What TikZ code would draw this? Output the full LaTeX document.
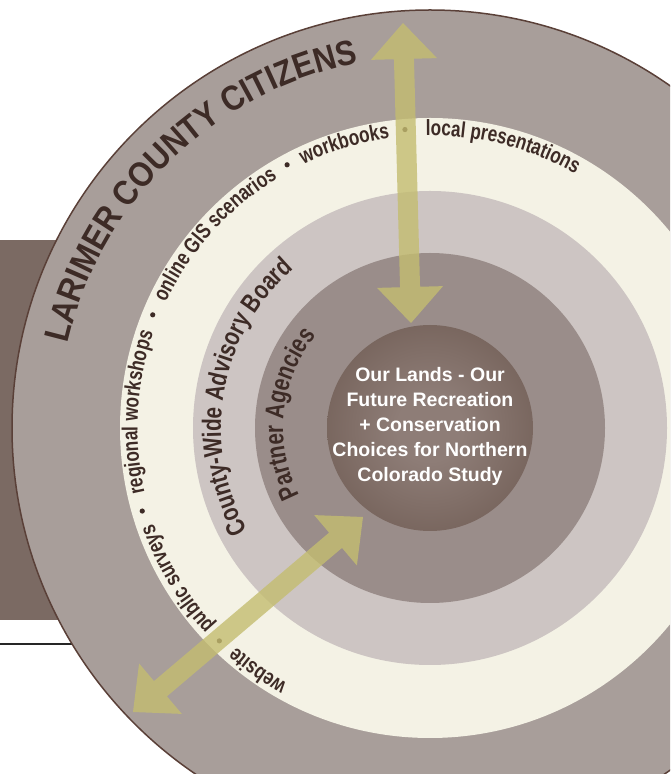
\documentclass[tikz,border=0pt]{standalone}
\usepackage{fontspec}
\setmainfont{Liberation Sans}
\newfontfamily\ringfont[FakeStretch=0.78]{Liberation Sans}
\newfontfamily\citizenfont[FakeStretch=0.88]{Liberation Sans}
\usetikzlibrary{calc, decorations.text}

\definecolor{outerring}{HTML}{A89E9A}
\definecolor{creamring}{HTML}{F4F2E5}
\definecolor{boardring}{HTML}{CDC5C3}
\definecolor{partnerring}{HTML}{9A8D8A}
\definecolor{hubdark}{HTML}{5B463C}
\definecolor{hublight}{HTML}{8E7D77}
\definecolor{backpanel}{HTML}{7B6A63}
\definecolor{rimline}{HTML}{5A4038}
\definecolor{inkbrown}{HTML}{3D2B26}
\definecolor{arrowolive}{HTML}{C4BD70}

\pgfdeclareradialshading{hubglow}{\pgfpoint{0bp}{0bp}}%
  {color(0bp)=(hublight); color(8bp)=(hublight); color(50bp)=(hubdark)}

\newcommand{\citizentype}{\citizenfont\bfseries\fontsize{35}{40}\selectfont}
\newcommand{\boardtype}{\ringfont\bfseries\fontsize{26.5}{30}\selectfont}
\newcommand{\channeltype}{\ringfont\bfseries\fontsize{22}{24}\selectfont}

% block arrow with a head at both ends, between two named points
\newcommand{\twowayarrow}[2]{%
  \fill[twoway] (#1)
    -- ($(#1)!36pt!(#2)!33pt!90:(#2)$)
    -- ($(#1)!36pt!(#2)!10pt!90:(#2)$)
    -- ($(#2)!36pt!(#1)!10pt!-90:(#1)$)
    -- ($(#2)!36pt!(#1)!33pt!-90:(#1)$)
    -- (#2)
    -- ($(#2)!36pt!(#1)!33pt!90:(#1)$)
    -- ($(#2)!36pt!(#1)!10pt!90:(#1)$)
    -- ($(#1)!36pt!(#2)!10pt!-90:(#2)$)
    -- ($(#1)!36pt!(#2)!33pt!-90:(#2)$)
    -- cycle;}

\tikzset{
  ringlabel/.style={decorate, decoration={text along path, text align=center,
    text color=inkbrown, text={#1}}},
  twoway/.style={fill=arrowolive, fill opacity=0.8},
  sepdot/.style={fill=inkbrown}
}

\begin{document}
\begin{tikzpicture}[x=1pt, y=1pt]
\clip (0,0) rectangle (670,774);

% panel and rule behind the rings
\fill[backpanel] (0,154) rectangle (300,534);
\draw[line width=2pt, black!85] (0,130) -- (120,130);

\begin{scope}[shift={(430,346)}]
  \filldraw[fill=outerring, draw=rimline, line width=1.5pt] (0,0) circle[radius=418];
  \fill[creamring] (0,0) circle[radius=310];
  \fill[boardring] (0,0) circle[radius=237];
  \fill[partnerring] (0,0) circle[radius=175];
  \shade[shading=hubglow] (0,0) circle[radius=103];

  % labels run clockwise so the letters face outwards
  \path[ringlabel={|\citizentype|LARIMER COUNTY CITIZENS}]
    (179:372) arc[start angle=179, end angle=89, radius=372];
  \path[ringlabel={|\boardtype|County-Wide Advisory Board}]
    (215:209) arc[start angle=215, end angle=125, radius=209];
  \path[ringlabel={|\boardtype|Partner Agencies}]
    (214:147) arc[start angle=214, end angle=134, radius=147];

  % outreach channels
  \path[ringlabel={|\channeltype|local presentations}]
    (97.5:292.5) arc[start angle=97.5, end angle=53.5, radius=292.5];
  \path[ringlabel={|\channeltype|workbooks}]
    (128.8:292.5) arc[start angle=128.8, end angle=84.8, radius=292.5];
  \path[ringlabel={|\channeltype|online GIS scenarios}]
    (160:292.5) arc[start angle=160, end angle=116, radius=292.5];
  \path[ringlabel={|\channeltype|regional workshops}]
    (198.9:292.5) arc[start angle=198.9, end angle=154.9, radius=292.5];
  \path[ringlabel={|\channeltype|public surveys}]
    (232.8:292.5) arc[start angle=232.8, end angle=188.8, radius=292.5];
  \path[ringlabel={|\channeltype|website}]
    (256.6:292.5) arc[start angle=256.6, end angle=212.6, radius=292.5];
  \foreach \a in {94.8, 118.5, 157.8, 196.1, 225.3}
    \fill[sepdot] (\a:299.5) circle[radius=2.6];

  % arrow ends
  \coordinate (citizens) at (-27,405);
  \coordinate (hubtop) at (-19,105);
  \coordinate (hubsw) at (-67,-89);
  \coordinate (outreach) at (-297,-284);
  \twowayarrow{citizens}{hubtop}
  \twowayarrow{hubsw}{outreach}

  \node[align=center, text=white, font=\bfseries\fontsize{19.5}{25}\selectfont]
    (study) at (0,2) {Our Lands - Our\\Future Recreation\\+ Conservation\\Choices for Northern\\Colorado Study};
\end{scope}
\end{tikzpicture}
\end{document}
